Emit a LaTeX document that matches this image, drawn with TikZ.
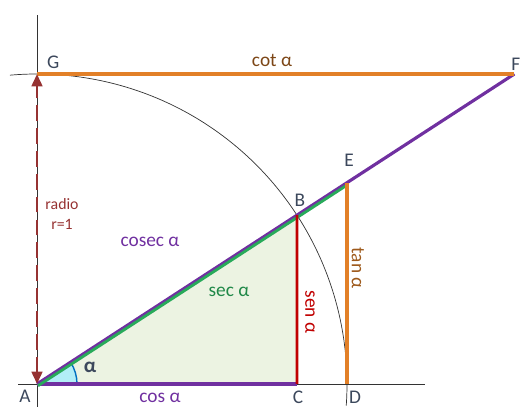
\documentclass[tikz,border=0pt]{standalone}
\usepackage{fontspec}
\setmainfont{Carlito}
\usetikzlibrary{positioning,arrows.meta}

\definecolor{lila}{RGB}{112,48,160}
\definecolor{verde}{RGB}{40,170,90}
\definecolor{rojo}{RGB}{192,0,0}
\definecolor{naranja}{RGB}{226,128,40}
\definecolor{granate}{RGB}{150,50,50}
\definecolor{azul}{RGB}{0,112,192}
\definecolor{pizarra}{RGB}{60,72,92}
\definecolor{relleno}{RGB}{236,243,226}

\begin{document}
\begin{tikzpicture}[font=\fontsize{11}{13}\selectfont]
  \useasboundingbox (-0.74,-0.46) rectangle (9.68,7.68);
  \coordinate (A) at (0,0);
  \coordinate (B) at (33:6.2);
  \coordinate (C) at (5.2,0);
  \coordinate (D) at (6.2,0);
  \coordinate (E) at (6.2,4.026);
  \coordinate (F) at (9.547,6.2);
  \coordinate (G) at (0,6.2);

  % triangle and angle
  \fill[relleno] (A) -- (B) -- (C) -- cycle;
  \fill[azul!40!cyan!30] (A) -- (0.8,0) arc (0:33:0.8) -- cycle;
  \draw[azul,thick] (0.8,0) arc (0:33:0.8);

  % axes and circle
  \draw[black!80,thin] (-0.38,0) -- (7.76,0);
  \draw[black!80,thin] (0,-0.46) -- (0,7.38);
  \draw[black!80,thin] (-4:6.2) arc (-4:95:6.2);

  % segments
  \draw[lila,line width=1.8pt] (A) -- (C);
  \draw[lila,line width=1.8pt] (A) -- (F);
  \draw[verde,line width=1.6pt,transform canvas={shift={(0.02,-0.035)}}] (A) -- (E);
  \draw[rojo,line width=1.6pt] (C) -- (B);
  \draw[naranja,line width=1.8pt] (D) -- (E);
  \draw[naranja,line width=1.8pt] (G) -- (F);
  \draw[granate,line width=1.6pt,dash pattern=on 9pt off 4pt,{Triangle[length=7pt,width=6pt]}-{Triangle[length=7pt,width=6pt]}] (A) -- (G);

  % point labels
  \node[text=pizarra,anchor=south west] (lG) at (0.08,6.18) {G};
  \node[text=pizarra,anchor=south west,inner sep=0pt] (lF) at (9.48,6.26) {F};
  \node[text=pizarra,anchor=south] (lE) at (6.24,4.22) {E};
  \node[text=pizarra,anchor=south] (lB) at (5.26,3.42) {B};
  \node[text=pizarra] (lA) at (-0.24,-0.24) {A};
  \node[text=pizarra] (lC) at (5.22,-0.26) {C};
  \node[text=pizarra] (lD) at (6.36,-0.26) {D};

  % value labels
  \node[text=naranja!55!black] (lcot) at (4.7,6.48) {cot α};
  \node[text=granate,font=\fontsize{9}{11}\selectfont,align=center] (lradio) at (0.5,3.4) {radio\\r=1};
  \node[text=lila] (lcosec) at (2.26,2.84) {cosec α};
  \node[text=verde!80!black] (lsec) at (3.84,1.84) {sec α};
  \node[text=rojo,rotate=-90] (lsen) at (5.46,1.44) {sen α};
  \node[text=naranja!70!black,rotate=-90] (ltan) at (6.42,2.32) {tan α};
  \node[text=lila] (lcos) at (2.46,-0.28) {cos α};
  \node[text=pizarra,font=\fontsize{12}{14}\selectfont\bfseries] (lalfa) at (1.06,0.34) {α};
\end{tikzpicture}
\end{document}
